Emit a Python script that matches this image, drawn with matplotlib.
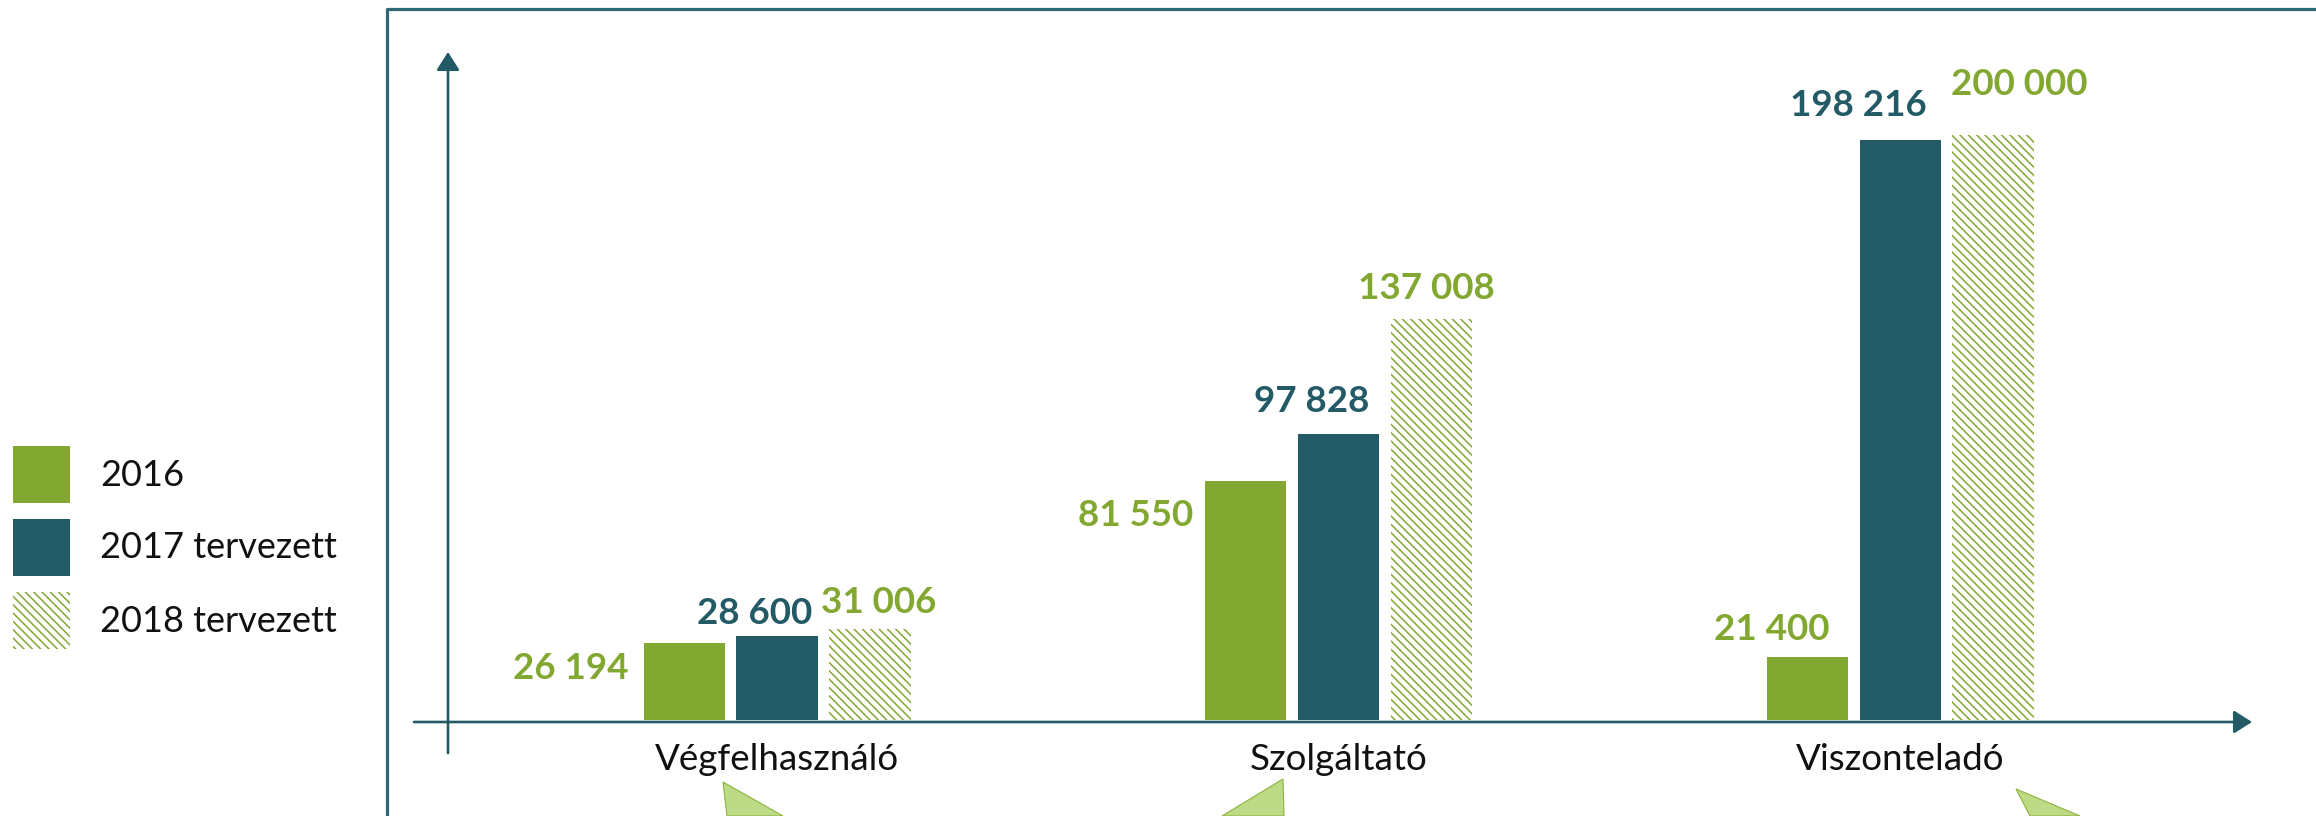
import numpy as np
import matplotlib.pyplot as plt
from matplotlib.patches import Rectangle, Polygon
from matplotlib.lines import Line2D

# adatok
kategoriak = ["Végfelhasználó", "Szolgáltató", "Viszonteladó"]
ertek_2016 = [26194, 81550, 21400]
ertek_2017 = [28600, 97828, 198216]
ertek_2018 = [31006, 137008, 200000]
sorozat_nevek = ["2016", "2017 tervezett", "2018 tervezett"]

ZOLD = "#82a832"
TEAL = "#225a66"
KERET = "#2e6873"
SZOVEG = "#111111"
CALLOUT = "#bdda85"
HATCH = "\\\\\\\\"

plt.rcParams["font.family"] = ["Lato", "DejaVu Sans"]
plt.rcParams["hatch.linewidth"] = 1.1

W, H = 2316, 816
fig = plt.figure(figsize=(W / 100, H / 100), dpi=100)


def fx(x):
    return x / W


def fy(y):  # y a kep tetejetol merve
    return 1 - y / H


ax = fig.add_axes([fx(414), fy(720), fx(2250) - fx(414), fy(20) - fy(720)])
ax.set_xlim(-0.6465, 2.6233)
ax.set_ylim(0, 239316)
ax.axis("off")

x = np.arange(len(kategoriak))
szel = 0.1443
tav = 0.1656

b16 = ax.bar(x - tav, ertek_2016, szel, color=ZOLD, linewidth=0)
b17 = ax.bar(x, ertek_2017, szel, color=TEAL, linewidth=0)
b18 = ax.bar(x + tav, ertek_2018, szel, color="white", edgecolor=ZOLD,
             hatch=HATCH, linewidth=0)

# feliratok eltolasa pixelben (dx a oszlop kozepetol, dy a tetejetol felfele)
eltolas = [
    [(-56, -25, "right"), (-52, -34, "right"), (-35, 28, "center")],
    [(-22, 23, "center"), (-27, 32, "center"), (-42, 35, "center")],
    [(9, 27, "center"), (-5, 31, "center"), (26, 50, "center")],
]
szinek = [ZOLD, TEAL, ZOLD]

for s, (bars, ertekek) in enumerate(zip([b16, b17, b18], [ertek_2016, ertek_2017, ertek_2018])):
    for g, (rect, v) in enumerate(zip(bars, ertekek)):
        dx, dy, ha = eltolas[s][g]
        cx = rect.get_x() + rect.get_width() / 2
        ax.annotate(f"{v:,}".replace(",", " "), xy=(cx, v), xytext=(dx, dy),
                    textcoords="offset pixels", ha=ha, va="center",
                    fontsize=26.5, fontweight="bold", color=szinek[s],
                    annotation_clip=False)

for i, kat in enumerate(kategoriak):
    ax.annotate(kat, xy=(i, 0), xytext=(0, -40), textcoords="offset pixels",
                ha="center", va="center", fontsize=26.5, fontweight="normal",
                color=SZOVEG, annotation_clip=False)

# tengelyek nyillal
nyil = dict(arrowstyle="-|>,head_length=0.55,head_width=0.35", color=TEAL,
            lw=1.9, mutation_scale=20, shrinkA=0, shrinkB=0)
ax.annotate("", xy=(2252, H - 722), xytext=(414, H - 722),
            xycoords="figure pixels", arrowprops=nyil, annotation_clip=False)
ax.annotate("", xy=(448, H - 52), xytext=(448, H - 753),
            xycoords="figure pixels", arrowprops=nyil, annotation_clip=False)

# keret
fig.add_artist(Line2D([fx(387), fx(387), 1.02], [-0.02, fy(9), fy(9)],
                      transform=fig.transFigure, lw=2.3, color=KERET))

# szovegbuborek csucsok alul
haromszogek = [
    [(723, 782), (727, 816), (783, 816)],
    [(1283, 779), (1284, 816), (1222, 816)],
    [(2016, 789), (2030, 816), (2080, 816)],
]
for pts in haromszogek:
    fig.add_artist(Polygon([(fx(a), fy(b)) for a, b in pts], closed=True,
                           transform=fig.transFigure, facecolor=CALLOUT,
                           edgecolor="#8db33f", lw=0.8))

# jelmagyarazat
jel_stilus = [dict(facecolor=ZOLD), dict(facecolor=TEAL),
              dict(facecolor="white", edgecolor=ZOLD, hatch=HATCH)]
for i, (nev, st) in enumerate(zip(sorozat_nevek, jel_stilus)):
    top = 446 + i * 73
    fig.add_artist(Rectangle((fx(13), fy(top + 57)), fx(57), 57 / H,
                             transform=fig.transFigure, linewidth=0, **st))
    fig.text(fx(100), fy(top + 29), nev, ha="left", va="center",
             fontsize=26, fontweight="normal", color=SZOVEG)

fig.savefig("out.png", dpi=100)
